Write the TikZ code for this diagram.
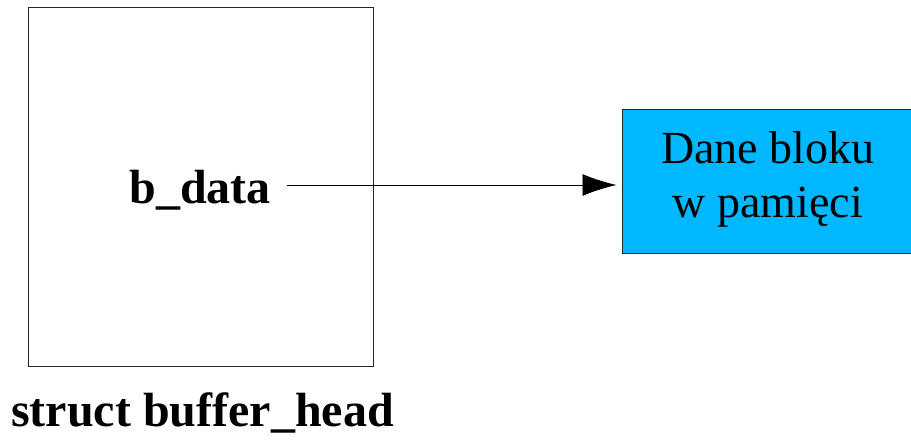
\documentclass[tikz,border=0pt]{standalone}
\usepackage{fontspec}
\setmainfont{Liberation Serif}
\usepackage{tikz}
\usetikzlibrary{arrows.meta}
\usetikzlibrary{positioning}
\definecolor{blokblue}{RGB}{0,184,255}

\begin{document}
\begin{tikzpicture}[x=1pt,y=-1pt,semithick]
	\tikzstyle{ramka}=[draw=black!85, line width=1pt, inner sep=0pt]
	\tikzstyle{napis}=[font=\fontsize{48}{53}\selectfont, inner sep=0pt]
	\useasboundingbox (0,0) rectangle (911,446);
	\node[ramka, minimum width=345pt, minimum height=359pt] (bh) at (200.5,187.5) {};
	\node[napis, font=\fontsize{48}{53}\selectfont\bfseries, inner xsep=16pt, text height=38pt, text depth=0pt] (bdata) at (200,185) {b\_data};
	\node[ramka, fill=blokblue, minimum width=292pt, minimum height=144pt] (blok) at (768,182) {};
	\node[napis, align=center, font=\fontsize{46}{54}\selectfont, yshift=3pt] (tekst) at (blok.center) {Dane bloku\\w pamięci};
	\node[napis, font=\fontsize{48}{53}\selectfont\bfseries, anchor=base west] (podpis) at (11,427) {struct buffer\_head};

		\draw[-{Latex[length=34pt,width=22pt]}, line width=0.8pt, shorten >=5pt] (bdata.east) -- (bdata.east -| blok.west);
\end{tikzpicture}
\end{document}
